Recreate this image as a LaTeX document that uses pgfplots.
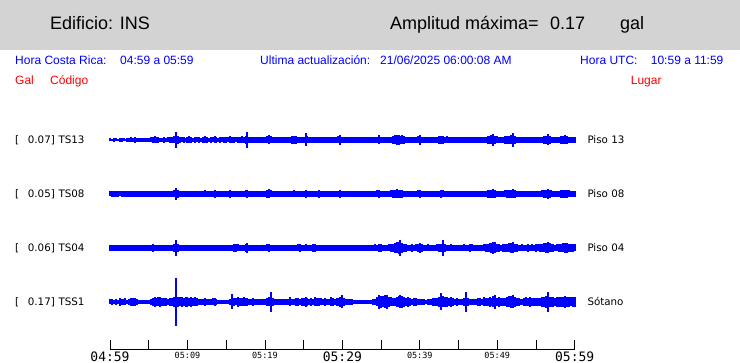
\documentclass[border=0pt]{standalone}
\usepackage{fontspec}
\usepackage{pgfplots}
\usepackage{pgfplotstable}
\pgfplotsset{compat=1.18}
\setmainfont{Liberation Sans}
\newfontfamily\dv{DejaVu Sans}
\newfontfamily\dvm{DejaVu Sans Mono}
\definecolor{hdr}{RGB}{211,211,211}
\definecolor{tblue}{RGB}{0,0,255}
\definecolor{tred}{RGB}{255,0,0}
\newcommand{\fs}[1]{\fontsize{#1}{#1}\selectfont}
\newcommand{\bigt}[1]{{\dvm\fs{13}#1}}
\newcommand{\smt}[1]{{\dvm\fs{8.5}#1}}

% i = sample index (4 per minute), a..d = half-amplitude of trace in px
\pgfplotstableread{
i a b c d
0 1.5 2.5 2.8 2.5
1 1.2 2.8 3.0 3.0
2 1.8 2.6 2.7 2.2
3 1.5 2.9 2.9 2.6
4 1.3 2.7 3.1 2.4
5 1.6 2.5 2.8 4.0
6 2.0 2.8 2.6 3.2
7 1.5 3.0 3.0 2.8
8 1.4 2.6 2.9 3.5
9 2.2 2.8 2.7 2.4
10 1.6 2.7 3.0 3.0
11 2.5 2.9 2.8 3.8
12 1.8 2.6 3.1 4.2
13 2.6 2.8 2.7 3.6
14 2.0 3.0 2.9 3.2
15 1.7 2.7 3.0 2.4
16 2.4 2.6 2.8 2.0
17 1.8 2.9 2.9 2.2
18 1.6 2.8 3.2 1.8
19 2.2 2.7 2.8 2.0
20 1.9 2.9 3.0 2.2
21 2.5 2.8 3.2 3.0
22 3.0 3.0 4.2 4.0
23 3.5 3.2 3.0 5.0
24 2.8 2.9 2.9 3.8
25 3.2 2.8 3.1 4.5
26 2.4 3.1 2.8 5.2
27 2.0 2.7 3.0 3.6
28 2.6 2.9 2.9 4.4
29 2.2 3.0 3.1 3.8
30 2.5 2.8 2.8 3.4
31 2.6 2.9 3.0 3.6
32 3.0 3.0 3.4 4.2
33 3.5 3.5 4.0 5.0
34 8.0 6.0 8.0 24.0
35 4.0 3.6 4.0 5.0
36 3.0 3.0 3.2 4.5
37 2.5 2.8 2.9 5.2
38 2.8 3.0 3.0 4.0
39 2.4 2.9 2.8 4.8
40 2.6 2.8 3.1 5.0
41 3.5 3.0 2.9 4.4
42 2.6 2.8 3.0 5.2
43 2.4 2.9 2.8 3.8
44 2.8 3.1 3.1 4.5
45 2.5 2.8 3.0 3.6
46 2.6 3.0 2.9 3.2
47 2.3 2.9 3.2 3.0
48 2.7 3.2 3.0 3.4
49 3.5 3.5 3.1 4.0
50 2.6 3.0 2.9 3.2
51 2.4 2.9 3.0 3.0
52 2.7 3.0 2.8 2.6
53 2.5 3.2 3.1 3.5
54 3.5 3.8 3.0 4.0
55 2.6 3.1 2.9 2.8
56 2.4 2.9 3.1 2.4
57 2.8 3.0 3.0 2.2
58 2.5 2.8 2.8 2.0
59 2.6 3.0 3.0 2.2
60 2.7 3.1 3.1 2.4
61 2.5 3.0 3.2 2.2
62 3.5 3.6 3.0 2.6
63 2.6 3.0 3.4 7.5
64 2.7 2.9 3.6 4.0
65 2.5 3.1 4.0 3.5
66 2.8 3.0 3.5 5.0
67 2.6 2.9 3.2 4.2
68 3.5 3.4 3.1 3.6
69 2.7 3.1 3.4 4.5
70 4.0 3.5 3.8 3.8
71 8.0 4.0 5.0 4.2
72 3.0 3.2 3.4 3.4
73 2.7 3.0 3.1 3.0
74 2.8 3.1 3.0 3.6
75 2.6 2.9 3.2 3.2
76 2.9 3.0 2.9 2.8
77 2.6 3.2 3.1 3.0
78 2.8 3.0 3.0 2.6
79 3.0 3.1 3.2 3.0
80 3.2 3.2 3.3 3.4
81 3.5 3.6 3.5 3.6
82 4.5 4.5 4.2 4.5
83 3.5 3.5 3.4 10.0
84 3.0 3.1 3.1 4.0
85 2.8 3.0 3.0 3.2
86 2.7 2.9 3.2 3.0
87 2.9 3.1 3.0 2.8
88 2.6 3.0 3.3 3.0
89 2.8 2.9 3.1 2.6
90 3.0 3.0 3.0 3.2
91 3.0 3.1 3.2 3.0
92 3.4 3.0 3.0 3.4
93 3.2 3.2 3.4 4.5
94 3.6 3.4 3.2 3.2
95 4.0 3.5 3.1 3.0
96 3.8 3.3 3.3 4.0
97 3.2 3.0 3.5 3.6
98 3.0 3.2 4.0 3.2
99 2.8 3.0 3.4 3.8
100 3.0 3.1 3.2 4.4
101 6.5 3.8 3.5 5.0
102 3.5 3.2 3.3 3.6
103 3.0 3.0 3.1 3.2
104 2.9 3.1 3.4 4.0
105 3.1 3.0 3.6 3.4
106 3.0 3.2 4.0 4.5
107 2.8 3.3 3.4 3.8
108 3.0 3.8 3.2 4.2
109 2.9 3.1 3.0 3.5
110 3.1 3.0 3.1 3.2
111 2.8 3.1 3.2 3.6
112 3.0 3.0 3.0 3.0
113 3.2 3.2 3.1 3.4
114 2.9 2.9 3.3 4.5
115 3.0 3.1 3.0 3.8
116 2.8 3.0 3.2 3.2
117 3.3 3.2 3.1 3.6
118 3.5 3.3 3.0 4.0
119 5.0 3.6 3.4 4.6
120 3.4 3.1 3.2 6.5
121 3.0 3.0 3.0 3.6
122 2.9 3.1 3.1 3.2
123 3.1 3.0 3.2 3.4
124 2.8 2.9 3.0 3.0
125 3.0 3.1 3.1 2.6
126 3.2 3.0 2.9 2.4
127 2.9 3.2 3.0 2.0
128 3.0 3.0 3.1 2.2
129 2.8 3.1 3.2 2.0
130 3.1 3.0 3.0 2.2
131 3.0 3.1 3.1 2.0
132 2.9 3.0 3.2 2.2
133 3.2 3.2 3.0 1.8
134 3.0 3.4 3.3 2.0
135 2.8 3.1 3.4 2.2
136 3.1 3.0 3.2 2.6
137 3.0 3.2 3.5 3.0
138 3.3 3.5 3.4 4.5
139 4.5 4.0 3.8 7.0
140 3.4 3.4 3.6 6.0
141 3.0 3.1 3.3 5.5
142 3.1 3.2 3.1 6.5
143 2.9 3.0 3.2 7.0
144 3.2 3.3 3.5 5.0
145 3.4 3.5 3.6 4.5
146 3.8 3.8 4.2 3.8
147 4.5 4.0 4.8 4.2
148 5.0 4.5 5.5 4.8
149 4.8 4.2 6.0 5.5
150 4.2 3.8 8.0 6.5
151 4.5 3.6 5.0 5.8
152 3.8 3.4 4.2 5.0
153 3.2 3.2 3.6 4.2
154 3.0 3.0 3.4 4.6
155 2.9 3.1 3.2 3.6
156 3.1 3.2 3.6 3.2
157 3.0 3.0 3.4 3.8
158 3.2 3.3 3.5 4.2
159 3.5 3.5 3.8 3.4
160 5.0 4.0 5.0 3.0
161 3.4 3.4 3.6 2.8
162 3.0 3.1 3.4 2.6
163 2.9 3.0 3.2 2.4
164 3.1 3.2 3.5 2.6
165 3.0 3.0 3.3 3.0
166 2.8 3.1 3.1 3.2
167 3.0 3.3 3.4 3.6
168 3.2 3.0 3.2 4.0
169 3.4 3.2 3.5 4.4
170 3.6 3.4 3.8 5.0
171 4.2 4.0 4.2 8.5
172 3.6 3.5 8.0 5.5
173 3.2 3.2 3.6 4.8
174 3.5 3.4 3.4 5.2
175 3.0 3.0 3.2 4.2
176 3.2 3.1 3.5 4.6
177 2.9 3.0 3.3 3.8
178 3.0 3.2 3.1 3.4
179 3.1 3.1 3.2 3.8
180 2.9 3.0 3.3 3.2
181 3.0 3.1 3.1 3.0
182 2.9 3.0 3.3 3.4
183 3.1 3.2 3.5 4.0
184 3.0 3.0 3.2 10.0
185 2.9 3.1 3.4 4.2
186 3.0 3.2 3.8 3.2
187 3.1 3.0 3.5 3.0
188 2.9 3.1 3.2 2.8
189 3.0 3.0 3.3 3.2
190 3.1 3.2 3.1 3.6
191 3.0 3.1 3.2 4.0
192 3.2 3.3 3.4 3.4
193 3.0 3.2 3.5 4.5
194 3.3 3.4 3.8 3.8
195 3.6 3.6 4.0 4.2
196 4.0 3.8 4.5 5.0
197 4.5 4.0 5.0 4.4
198 6.0 4.5 6.0 5.5
199 4.2 3.8 5.5 7.0
200 3.5 3.4 4.2 4.0
201 3.2 3.2 3.6 4.6
202 3.0 3.1 3.4 3.8
203 3.4 3.3 3.6 4.4
204 3.6 3.5 3.8 3.6
205 4.0 3.6 4.2 4.8
206 4.2 3.8 4.5 5.5
207 4.5 3.9 4.8 6.0
208 7.0 4.5 5.5 6.5
209 4.0 3.6 4.2 5.2
210 3.4 3.3 3.6 4.0
211 3.2 3.1 3.4 3.6
212 3.0 3.2 3.2 3.2
213 3.1 3.0 3.5 3.4
214 3.0 3.1 3.3 3.8
215 2.9 3.2 3.4 4.5
216 3.1 3.0 3.6 4.0
217 3.0 3.1 3.3 5.0
218 3.2 3.2 3.5 4.2
219 3.0 3.0 3.4 3.6
220 3.1 3.1 3.6 4.0
221 3.0 3.2 3.5 4.4
222 3.2 3.3 3.8 3.8
223 3.4 3.5 4.0 4.6
224 3.8 3.8 4.5 5.2
225 4.2 4.0 4.8 6.0
226 5.5 5.0 5.5 10.0
227 4.0 4.0 4.5 5.0
228 3.4 3.5 4.0 4.6
229 3.2 3.3 3.6 5.2
230 3.0 3.1 3.4 4.4
231 3.1 3.2 3.5 5.0
232 3.4 3.4 3.8 4.6
233 3.6 3.6 4.2 5.4
234 4.0 3.8 4.5 4.8
235 4.5 4.2 5.0 5.6
236 3.8 3.8 4.6 4.8
237 3.4 3.5 4.0 5.2
238 3.2 3.3 3.8 4.5
239 3.3 3.4 3.6 5.4
240 3.1 3.2 3.5 5.0
}\traces

\begin{document}
\begin{tikzpicture}
\path[use as bounding box] (0pt,0pt) rectangle (740pt,-363pt);
\fill[hdr] (0pt,0pt) rectangle (740pt,-50pt);
% header
\node[anchor=base west, inner sep=0pt, font=\fs{18}] at (50pt,-30pt) {Edificio: INS};
\node[anchor=base west, inner sep=0pt, font=\fs{18}] at (390pt,-30pt) {Amplitud máxima=};
\node[anchor=base west, inner sep=0pt, font=\fs{18}] at (550pt,-30pt) {0.17};
\node[anchor=base west, inner sep=0pt, font=\fs{18}] at (620pt,-30pt) {gal};
% blue line
\begin{scope}[every node/.style={anchor=base west, inner sep=0pt, font=\fs{12}, text=tblue}]
\node at (15pt,-65pt) {Hora Costa Rica:};
\node at (120pt,-65pt) {04:59 a 05:59};
\node at (260pt,-65pt) {Ultima actualización:};
\node at (380pt,-65pt) {21/06/2025 06:00:08 AM};
\node at (580pt,-65pt) {Hora UTC:};
\node at (650.7pt,-65pt) {10:59 a 11:59};
\end{scope}
\begin{scope}[every node/.style={anchor=base west, inner sep=0pt, font=\fs{12}, text=tred}]
\node at (15pt,-85pt) {Gal};
\node at (50pt,-85pt) {Código};
\node at (630.7pt,-85pt) {Lugar};
\end{scope}
% trace labels
\begin{scope}[every node/.style={anchor=base west, inner sep=0pt, font={\dv\fs{10.3}}}]
\node at (15pt,-144pt) {[}; \node at (27.7pt,-144pt) {0.07]}; \node at (58.3pt,-144pt) {TS13}; \node at (587.3pt,-144pt) {Piso 13};
\node at (15pt,-198pt) {[}; \node at (27.7pt,-198pt) {0.05]}; \node at (58.3pt,-198pt) {TS08}; \node at (587.3pt,-198pt) {Piso 08};
\node at (15pt,-252pt) {[}; \node at (27.7pt,-252pt) {0.06]}; \node at (58.3pt,-252pt) {TS04}; \node at (587.3pt,-252pt) {Piso 04};
\node at (15pt,-306pt) {[}; \node at (27.7pt,-306pt) {0.17]}; \node at (58.3pt,-306pt) {TSS1}; \node at (587.3pt,-306pt) {Sótano};
\end{scope}
\begin{axis}[
  at={(110pt,-349pt)}, anchor=south west,
  scale only axis, width=464.7pt, height=234pt,
  xmin=0, xmax=240, ymin=-349, ymax=-115,
  axis x line=bottom, axis y line=none,
  x axis line style={-, black, line width=0.8pt},
  xtick={0,20,...,240},
  xticklabels={\bigt{04:59},{},\smt{05:09},{},\smt{05:19},{},\bigt{05:29},{},\smt{05:39},{},\smt{05:49},{},\bigt{05:59}},
  tick align=inside, major tick length=9pt,
  xtick style={black, line width=0.8pt},
  xticklabel style={anchor=north, inner sep=0pt, yshift=-3pt},
  clip=false,
  trace/.style={draw=none, no markers, error bars/.cd, y dir=both, y explicit, error mark=none,
     error bar style={draw=tblue, line width=2pt}},
]
\addplot[trace] table[x=i, y expr=-140, y error=a] {\traces};
\addplot[trace] table[x=i, y expr=-194, y error=b] {\traces};
\addplot[trace] table[x=i, y expr=-248, y error=c] {\traces};
\addplot[trace] table[x=i, y expr=-302, y error=d] {\traces};
\end{axis}
\end{tikzpicture}
\end{document}
